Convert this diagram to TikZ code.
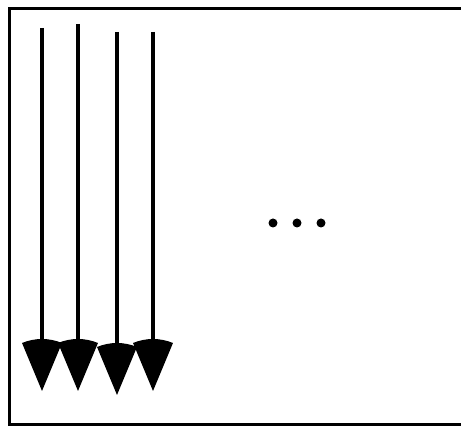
\documentclass[tikz,border=0pt]{standalone}
\usetikzlibrary{calc}
\tikzset{
  frame/.style={draw=black, line width=3pt},
  shaft/.style={draw=black, line width=4pt},
  cone/.style={fill=black},
  dot/.style={circle, fill=black, inner sep=0pt, minimum size=9pt},
}
\begin{document}
\begin{tikzpicture}[x=1pt, y=1pt]
  \useasboundingbox (0,0) rectangle (461,427);
  \clip (0,0) rectangle (461,427);

  \draw[frame] (9.5,2.5) rectangle (475,418.5);

  % four downward arrows with sector heads
  \foreach \i/\x/\ytop/\ytip in {1/42/399/36, 2/78/403/36, 3/117/395/32, 4/153/395/36} {
    \coordinate (top\i) at (\x,\ytop);
    \coordinate (tip\i) at (\x,\ytip);
    \draw[shaft] (top\i) -- ($(tip\i)+(0,40)$);
    \fill[cone] (tip\i) -- ++(112.6:52) arc[start angle=112.6, end angle=67.4, radius=52] -- cycle;
  }

  \foreach \i/\x in {1/273, 2/297, 3/321}
    \node[dot] (dot\i) at (\x,204) {};

\end{tikzpicture}
\end{document}
